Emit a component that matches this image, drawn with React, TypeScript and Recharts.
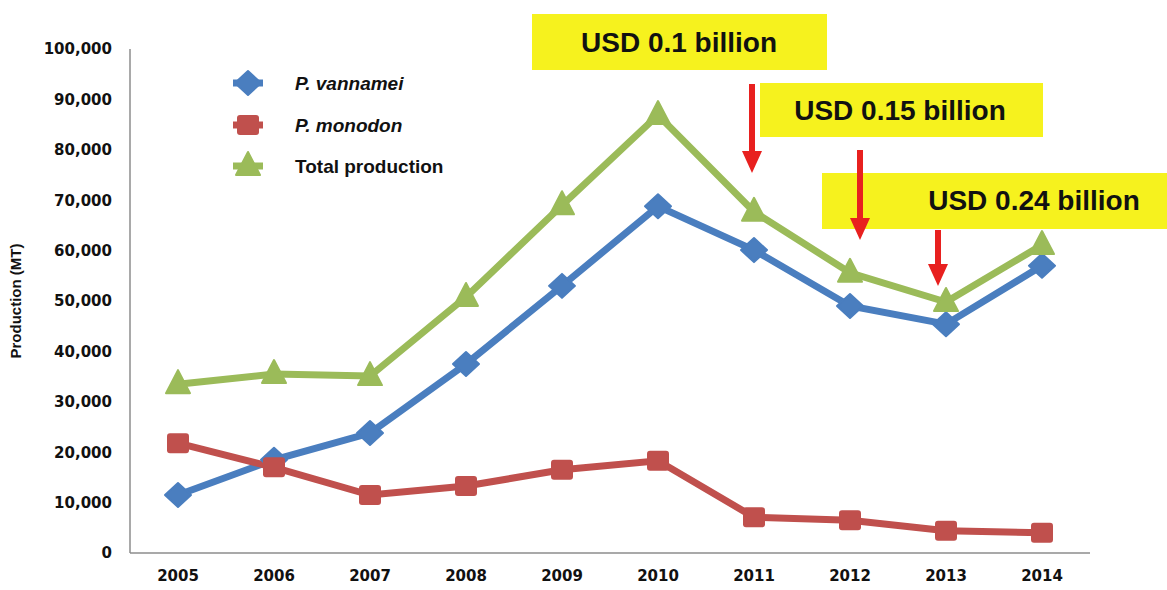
import React from "react";
import { LineChart, Line, XAxis, YAxis } from "recharts";

const years = ["2005", "2006", "2007", "2008", "2009", "2010", "2011", "2012", "2013", "2014"];
const vannamei = [11500, 18500, 23800, 37500, 53000, 68800, 60100, 49000, 45400, 57000];
const monodon = [21800, 17000, 11500, 13300, 16500, 18300, 7100, 6500, 4400, 4000];
const total = [33500, 35500, 35100, 50800, 69000, 86900, 67700, 55600, 49800, 61100];
const yTicks = [0, 10000, 20000, 30000, 40000, 50000, 60000, 70000, 80000, 90000, 100000];
const seriesNames = ["P. vannamei", "P. monodon", "Total production"];
const annotations = ["USD 0.1 billion", "USD 0.15 billion", "USD 0.24 billion"];

const data = years.map((y, i) => ({ year: y, vannamei: vannamei[i], monodon: monodon[i], total: total[i] }));

const BLUE = "#4a7ebf";
const RED = "#c0504d";
const GREEN = "#9bbb59";
const YELLOW = "#f6f21e";
const ARROW = "#e8201f";
const FONT = "'Liberation Sans', Arial, sans-serif";

const Diamond = ({ cx, cy, color }: any) => (
  <polygon points={`${cx},${cy - 12} ${cx + 13},${cy} ${cx},${cy + 12} ${cx - 13},${cy}`} fill={color} stroke={color} strokeWidth={2} strokeLinejoin="round" />
);
const Square = ({ cx, cy, color }: any) => (
  <rect x={cx - 11} y={cy - 10} width={22} height={20} rx={3} fill={color} />
);
const Triangle = ({ cx, cy, color }: any) => (
  <polygon points={`${cx},${cy - 14} ${cx + 12},${cy + 9} ${cx - 12},${cy + 9}`} fill={color} stroke={color} strokeWidth={2} strokeLinejoin="round" />
);

const fmt = (v: number) => (v === 0 ? "0" : v.toLocaleString("en-US"));

const Arrow = ({ x, y1, y2 }: any) => (
  <g>
    <rect x={x - 3} y={y1} width={6} height={y2 - y1 - 20} fill={ARROW} />
    <polygon points={`${x - 10},${y2 - 22} ${x + 10},${y2 - 22} ${x},${y2}`} fill={ARROW} />
  </g>
);

export default function App() {
  return (
    <div style={{ position: "absolute", left: 0, top: 0, width: 1167, height: 590, background: "#fff" }}>
      <LineChart width={1167} height={590} data={data} margin={{ top: 49, right: 77, bottom: 0, left: 0 }}>
        <XAxis
          dataKey="year"
          height={37}
          padding={{ left: 48, right: 48 }}
          tickLine={false}
          tickSize={0}
          tickMargin={17}
          axisLine={{ stroke: "#8c8c8c", strokeWidth: 1.5 }}
          tick={{ fill: "#111", fontSize: 15, fontWeight: 700, fontFamily: "'DejaVu Sans', sans-serif" }}
        />
        <YAxis
          width={130}
          domain={[0, 100000]}
          ticks={yTicks}
          tickFormatter={fmt}
          tickLine={false}
          tickSize={0}
          tickMargin={18}
          axisLine={{ stroke: "#8c8c8c", strokeWidth: 1.5 }}
          tick={{ fill: "#111", fontSize: 15, fontWeight: 700, fontFamily: "'DejaVu Sans', sans-serif" }}
          label={{ value: "Production (MT)", angle: -90, position: "insideLeft", offset: 16, style: { fontSize: 15, fontWeight: 700, fill: "#111", fontFamily: FONT, textAnchor: "middle" } }}
        />
        <Line dataKey="vannamei" stroke={BLUE} strokeWidth={7} isAnimationActive={false}
          dot={(p: any) => <Diamond key={`v${p.index}`} cx={p.cx} cy={p.cy} color={BLUE} />} />
        <Line dataKey="monodon" stroke={RED} strokeWidth={7} isAnimationActive={false}
          dot={(p: any) => <Square key={`m${p.index}`} cx={p.cx} cy={p.cy} color={RED} />} />
        <Line dataKey="total" stroke={GREEN} strokeWidth={7} isAnimationActive={false}
          dot={(p: any) => <Triangle key={`t${p.index}`} cx={p.cx} cy={p.cy} color={GREEN} />} />
      </LineChart>
      <svg width={1167} height={590} style={{ position: "absolute", left: 0, top: 0, pointerEvents: "none" }}>
        <g fontFamily={FONT} fontWeight={700} fontSize={19} fill="#111">
          <line x1={233} x2={263} y1={83} y2={83} stroke={BLUE} strokeWidth={7} />
          <Diamond cx={248} cy={83} color={BLUE} />
          <text x={295} y={90} fontStyle="italic">{seriesNames[0]}</text>
          <line x1={233} x2={263} y1={125} y2={125} stroke={RED} strokeWidth={7} />
          <Square cx={248} cy={125} color={RED} />
          <text x={295} y={132} fontStyle="italic">{seriesNames[1]}</text>
          <line x1={233} x2={263} y1={166} y2={166} stroke={GREEN} strokeWidth={7} />
          <Triangle cx={248} cy={166} color={GREEN} />
          <text x={295} y={173}>{seriesNames[2]}</text>
        </g>
        <rect x={532} y={14} width={295} height={56} fill={YELLOW} />
        <rect x={760} y={83} width={283} height={54} fill={YELLOW} />
        <rect x={822} y={173} width={345} height={56} fill={YELLOW} />
        <g fontFamily={FONT} fontWeight={700} fontSize={28} fill="#111" textAnchor="middle">
          <text x={679} y={52}>{annotations[0]}</text>
          <text x={900} y={120}>{annotations[1]}</text>
          <text x={1034} y={210}>{annotations[2]}</text>
        </g>
        <Arrow x={752} y1={84} y2={173} />
        <Arrow x={860} y1={150} y2={240} />
        <Arrow x={938} y1={230} y2={286} />
      </svg>
    </div>
  );
}
